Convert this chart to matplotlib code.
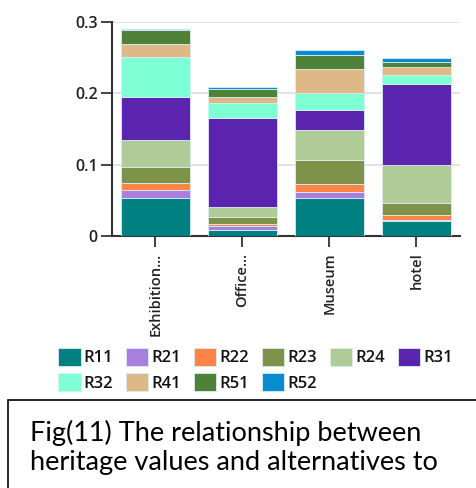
import matplotlib
matplotlib.use("Agg")
import matplotlib.pyplot as plt
from matplotlib.patches import Rectangle
import numpy as np

categories = ["Exhibition…", "Office…", "Museum", "hotel"]
series_names = ["R11", "R21", "R22", "R23", "R24", "R31", "R32", "R41", "R51", "R52"]
R11 = [0.053, 0.008, 0.053, 0.021]
R21 = [0.012, 0.006, 0.009, 0.002]
R22 = [0.009, 0.003, 0.011, 0.006]
R23 = [0.023, 0.010, 0.033, 0.017]
R24 = [0.037, 0.014, 0.042, 0.054]
R31 = [0.061, 0.124, 0.029, 0.113]
R32 = [0.055, 0.021, 0.023, 0.013]
R41 = [0.019, 0.008, 0.034, 0.010]
R51 = [0.019, 0.012, 0.019, 0.007]
R52 = [0.002, 0.002, 0.007, 0.006]
series_values = [R11, R21, R22, R23, R24, R31, R32, R41, R51, R52]
yticks = [0, 0.1, 0.2, 0.3]
ytick_labels = ["0", "0.1", "0.2", "0.3"]
caption_lines = ["Fig(11) The relationship between", "heritage values and alternatives to"]

colors = ["#008080", "#a87fdf", "#ff8446", "#7f9249", "#aecb98",
          "#5b24ae", "#7fffd4", "#deb887", "#4f8238", "#0a8bd0"]

W, H = 477, 488
fig = plt.figure(figsize=(W / 100, H / 100), dpi=100)
ax = fig.add_axes([111.7 / W, 1 - 236 / H, (460 - 111.7) / W, (236 - 21.7) / H])

x = np.arange(len(categories))
bottom = np.zeros(len(categories))
handles = []
for name, vals, c in zip(series_names, series_values, colors):
    vals = np.array(vals)
    b = ax.bar(x, vals, 0.79, bottom=bottom, color=c, edgecolor="#d8eef2",
               linewidth=0.6, label=name, zorder=3)
    handles.append(b)
    bottom += vals

ax.set_xlim(-0.5, 3.5)
ax.set_ylim(0, 0.3)
ax.set_yticks(yticks)
ax.set_yticklabels(ytick_labels, fontsize=11.5, family="Open Sans",
                   fontweight="semibold", color="#222222")
ax.set_xticks(x)
ax.set_xticklabels(categories, rotation=90, fontsize=10.5, family="Open Sans",
                   fontweight="semibold", color="#222222", va="top", ha="center")
for s in ["top", "right"]:
    ax.spines[s].set_visible(False)
for s in ["left", "bottom"]:
    ax.spines[s].set_color("#333333")
    ax.spines[s].set_linewidth(1.5)
ax.tick_params(axis="both", length=8, width=1.3, color="#333333", pad=2)
ax.tick_params(axis="x", pad=4)
ax.yaxis.grid(True, color="#dddddd", linewidth=1.2, zorder=0)
ax.set_axisbelow(True)

# legend in row-major order
order = [0, 6, 1, 7, 2, 8, 3, 9, 4, 5]
leg = fig.legend([handles[i] for i in order], [series_names[i] for i in order],
                 ncol=6, loc="upper left", bbox_to_anchor=(58 / W, 1 - 348 / H),
                 frameon=False, borderpad=0, borderaxespad=0,
                 prop={"family": "Open Sans", "size": 12, "weight": "semibold"},
                 handlelength=1.35, handleheight=1.25, handletextpad=0.2,
                 columnspacing=0.75, labelspacing=0.4)
for t in leg.get_texts():
    t.set_color("#111111")

# caption box
fig.patches.append(Rectangle((8 / W, -0.1), 1.0, (488 - 400) / H + 0.1,
                             transform=fig.transFigure, fill=False,
                             edgecolor="black", linewidth=1.2))
fig.text(30 / W, 1 - 441 / H, caption_lines[0], fontsize=19.5, family="Lato",
         va="baseline", ha="left", color="black")
fig.text(30 / W, 1 - 470 / H, caption_lines[1], fontsize=19.5, family="Lato",
         va="baseline", ha="left", color="black")

fig.savefig("out.png", dpi=100)
